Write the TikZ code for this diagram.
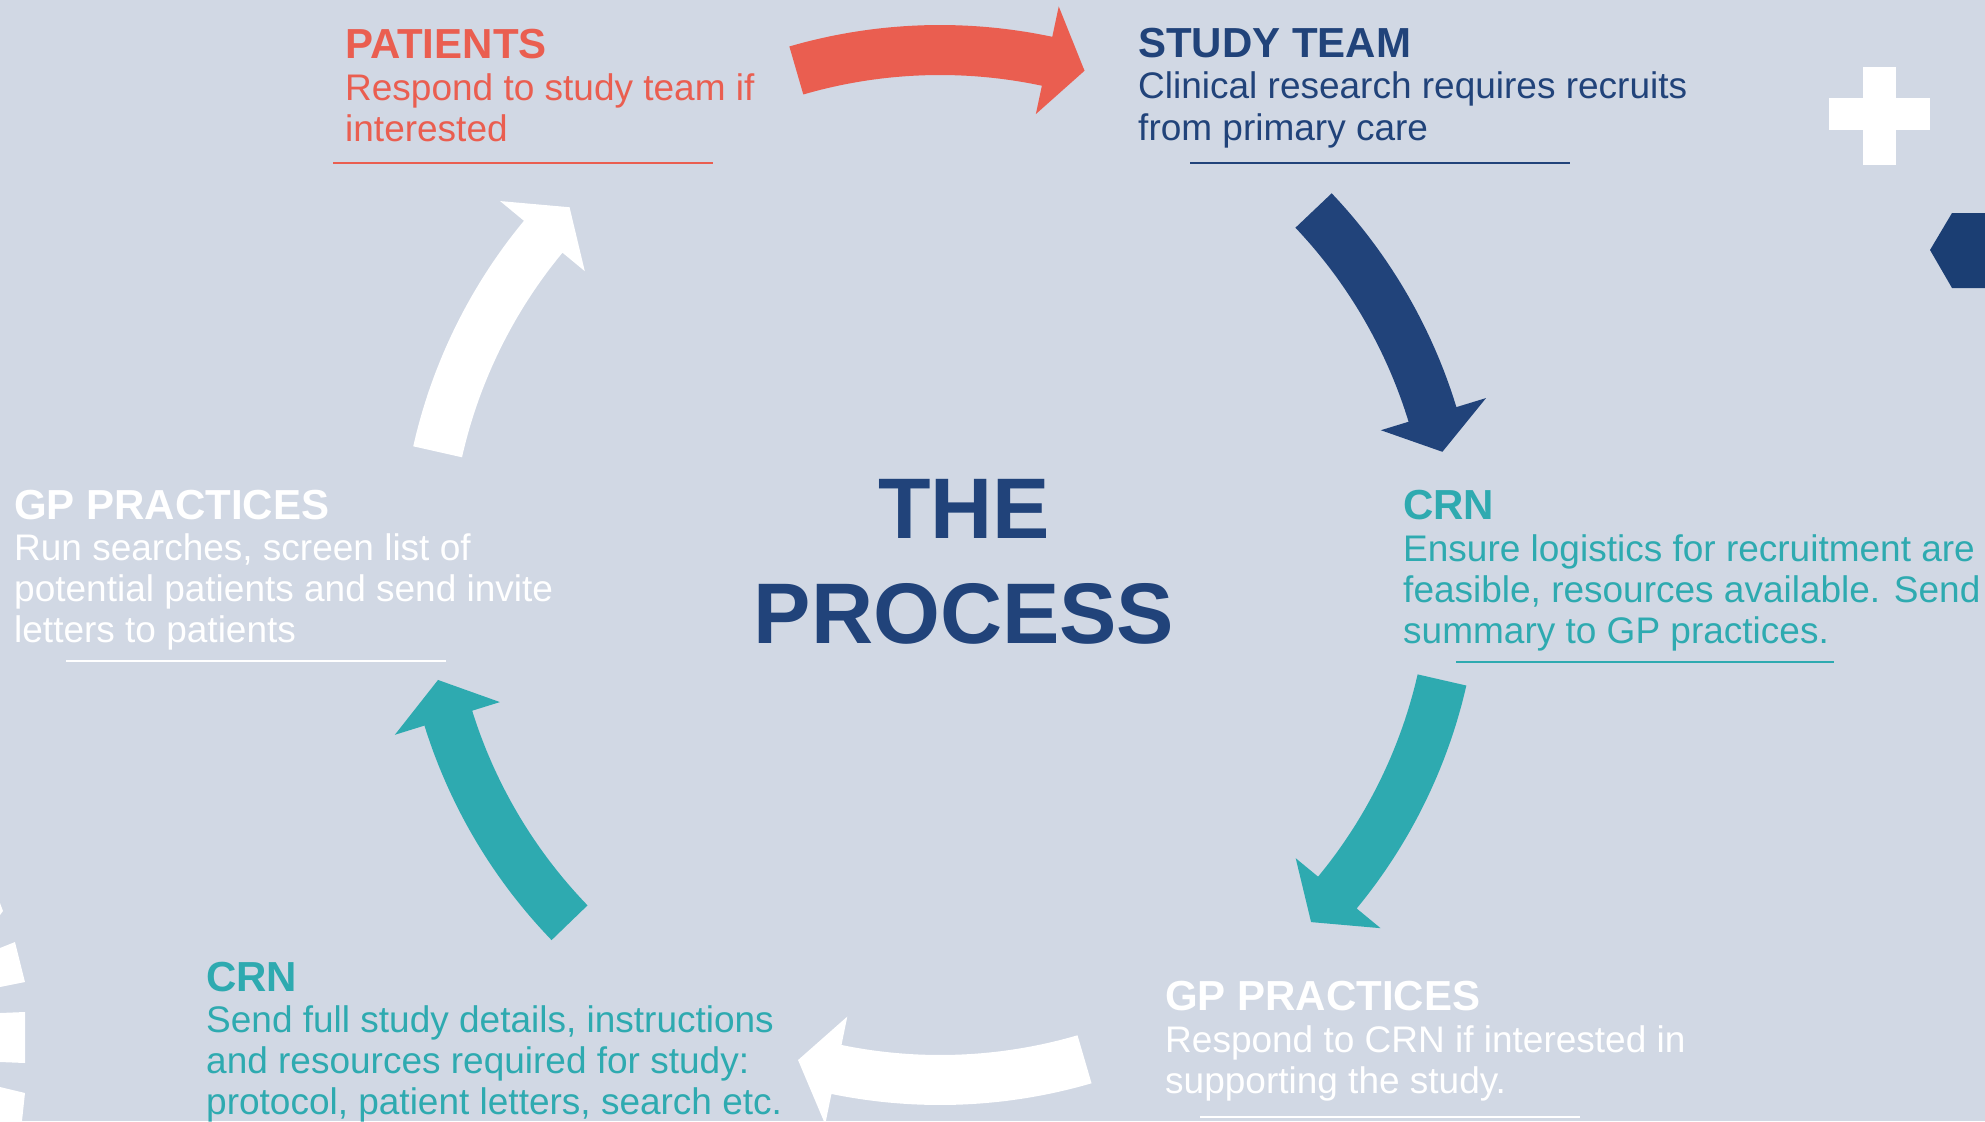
\documentclass[tikz,border=0pt]{standalone}
\usepackage{fontspec}
\setmainfont{Liberation Sans}
\definecolor{bg}{RGB}{209,216,228}
\definecolor{cred}{RGB}{234,94,80}
\definecolor{cnavy}{RGB}{33,67,122}
\definecolor{chex}{RGB}{27,62,115}
\definecolor{cteal}{RGB}{46,170,176}
\newcommand{\curvedarrow}[4]{%
  \fill[#1] plot[domain=#2:#3,samples=40] ({540*cos(\x)},{540*sin(\x)})
    -- (#3:571) -- (#4:515) -- (#3:461)
    -- plot[domain=#3:#2,samples=40] ({490*cos(\x)},{490*sin(\x)}) -- cycle;}
\tikzset{
  head/.style={font=\fontsize{42}{44}\selectfont\bfseries, anchor=base west, inner sep=0pt},
  body/.style={font=\fontsize{37}{39}\selectfont, anchor=base west, inner sep=0pt},
  ttl/.style={font=\fontsize{86}{90}\selectfont\bfseries, anchor=base, inner sep=0pt, text=cnavy},
  rule/.style={line width=2pt},
}
\begin{document}
\begin{tikzpicture}[x=1pt,y=-1pt]
\useasboundingbox (0,0) rectangle (1985,1121);
\clip (0,0) rectangle (1985,1121);
\fill[bg] (0,0) rectangle (1985,1121);

% curved arrows around the circle
\begin{scope}[shift={(940,565)}]
  \curvedarrow{cred}{-106.2}{-78}{-73.7}
  \curvedarrow{cnavy}{-43.5}{-17}{-12.7}
  \curvedarrow{cteal}{12.9}{39.5}{43.9}
  \curvedarrow{white}{73.7}{101.6}{106}
  \curvedarrow{cteal}{136}{162.7}{167.1}
  \curvedarrow{white}{-167.3}{-140.4}{-136}
\end{scope}

% decorations
\fill[white] (1863,67) rectangle (1896,165);
\fill[white] (1829,98) rectangle (1930,130);
\fill[chex] (1930,250) -- (1952,213) -- (1990,213) -- (1990,288) -- (1952,288) -- cycle;
\fill[white] (0,903) -- (3,911) -- (0,915) -- cycle;
\fill[white] (0,948) -- (15,942) -- (25,982) -- (0,987) -- cycle;
\fill[white] (0,1013) -- (25,1012) -- (25,1063) -- (0,1062) -- cycle;
\fill[white] (0,1087) -- (25,1093) -- (22,1121) -- (0,1121) -- cycle;

% title
\node[ttl] (t1) at (964,538) {THE};
\node[ttl] (t2) at (964,643) {PROCESS};

% patients
\node[head, text=cred] (pa) at (345,59) {PATIENTS};
\node[body, text=cred] (pa1) at (345,101) {Respond to study team if};
\node[body, text=cred] (pa2) at (345,142) {interested};
\coordinate (pal) at (333,163); \coordinate (par) at (713,163);
\draw[rule, cred] (pal) -- (par);

% study team
\node[head, text=cnavy] (st) at (1138,58) {STUDY TEAM};
\node[body, text=cnavy] (st1) at (1138,99) {Clinical research requires recruits};
\node[body, text=cnavy] (st2) at (1138,140) {from primary care};
\coordinate (stl) at (1190,163); \coordinate (str) at (1570,163);
\draw[rule, cnavy] (stl) -- (str);

% CRN right
\node[head, text=cteal] (cr) at (1403,519) {CRN};
\node[body, text=cteal] (cr1) at (1403,561) {Ensure logistics for recruitment are};
\node[body, text=cteal] (cr2) at (1403,602) {feasible, resources available. Send};
\node[body, text=cteal] (cr3) at (1403,643) {summary to GP practices.};
\coordinate (crl) at (1456,662); \coordinate (crr) at (1834,662);
\draw[rule, cteal] (crl) -- (crr);

% GP practices bottom right
\node[head, text=white] (gb) at (1165,1010) {GP PRACTICES};
\node[body, text=white] (gb1) at (1165,1052) {Respond to CRN if interested in};
\node[body, text=white] (gb2) at (1165,1093) {supporting the study.};
\coordinate (gbl) at (1200,1117); \coordinate (gbr) at (1580,1117);
\draw[rule, white] (gbl) -- (gbr);

% CRN bottom left
\node[head, text=cteal] (cl) at (206,991) {CRN};
\node[body, text=cteal] (cl1) at (206,1032) {Send full study details, instructions};
\node[body, text=cteal] (cl2) at (206,1073) {and resources required for study:};
\node[body, text=cteal] (cl3) at (206,1114) {protocol, patient letters, search etc.};

% GP practices left
\node[head, text=white] (gl) at (14,519) {GP PRACTICES};
\node[body, text=white] (gl1) at (14,560) {Run searches, screen list of};
\node[body, text=white] (gl2) at (14,601) {potential patients and send invite};
\node[body, text=white] (gl3) at (14,642) {letters to patients};
\coordinate (gll) at (66,661); \coordinate (glr) at (446,661);
\draw[rule, white] (gll) -- (glr);
\end{tikzpicture}
\end{document}
